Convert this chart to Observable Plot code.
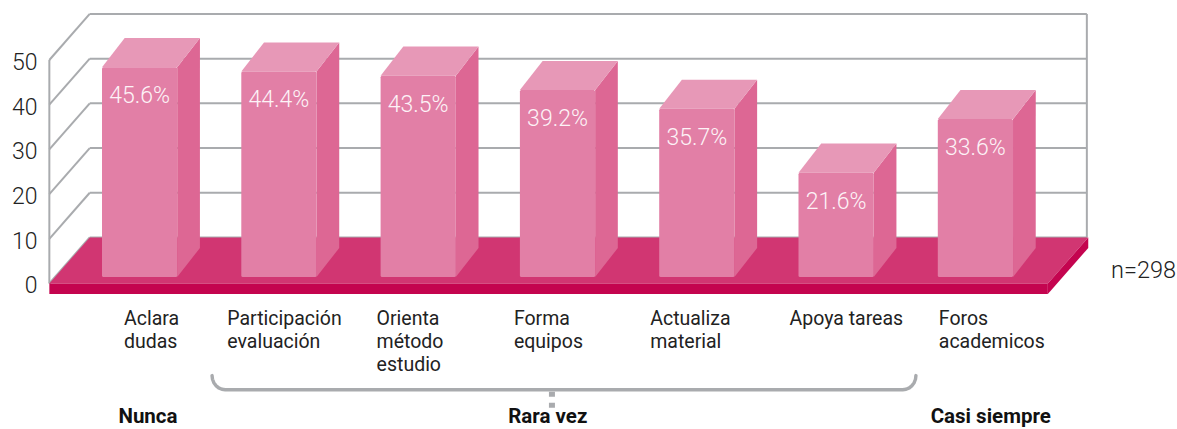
<!DOCTYPE html>
<html><head><meta charset="utf-8">
<script src="https://cdn.jsdelivr.net/npm/d3@7"></script>
<script src="https://cdn.jsdelivr.net/npm/@observablehq/plot@0.6"></script>
<style>html,body{margin:0;padding:0;background:#fff;overflow:hidden}svg{display:block}</style>
</head><body><div id="c"></div>
<script>
const categories = ["Aclara\ndudas","Participación\nevaluación","Orienta\nmétodo\nestudio","Forma\nequipos","Actualiza\nmaterial","Apoya tareas","Foros\nacademicos"];
const percentLabels = [45.6,44.4,43.5,39.2,35.7,21.6,33.6];
const barHeights = [45.3,44.3,43.4,40.2,36.0,21.7,33.7];
const groups = ["Nunca","Rara vez","Casi siempre"];
const yTicks = [0,10,20,30,40,50];
const sampleNote = "n=298";

// layout (data units of the x and y scales)
const FONT = "Roboto, sans-serif";
const GRID = "#a9abae", TEXT = "#222";
const barW = .54, barDx = .163, barDy = 6.5, barBase = 1.45, lift = 3.1;
const wallDx = .29, wallDy = 10.3;
const floorL = -.378, floorR = 6.79, slab = 2.35;
const labelDx = [22,-14,-4,-6,-9,-9,1];
const groupX = [.33, 3.2, 6.38];

const poly = (id, fill, pts) => pts.map(([x,y]) => ({id, fill, x, y}));
const bars = barHeights.map((v,i) => ({i, label: percentLabels[i].toFixed(1) + "%", top: v + lift, cat: categories[i]}));
const faces = bars.flatMap(b => [
  ...poly("s"+b.i, "#dd6794", [[b.i+barW,barBase],[b.i+barW+barDx,barBase+barDy],[b.i+barW+barDx,b.top+barDy],[b.i+barW,b.top]]),
  ...poly("t"+b.i, "#e798b7", [[b.i,b.top],[b.i+barW,b.top],[b.i+barW+barDx,b.top+barDy],[b.i+barDx,b.top+barDy]])
]);
const floor = [
  ...poly("top", "#d13672", [[floorL,0],[floorR,0],[floorR+wallDx,wallDy],[floorL+wallDx,wallDy]]),
  ...poly("side", "#c4044f", [[floorR,0],[floorR+wallDx,wallDy],[floorR+wallDx,wallDy-slab],[floorR,-slab]]),
  ...poly("front", "#c4044f", [[floorL,0],[floorR,0],[floorR,-slab],[floorL,-slab]])
];
const steps = d3.range(0,7).map(k => k/6*Math.PI/2);
const bracket = [
  ...steps.map(t => ({x: .79+.095*(1-Math.cos(t)), y: -20.6-3.17*Math.sin(t)})),
  ...steps.map(t => ({x: 5.748+.095*Math.sin(t), y: -23.77+3.17*(1-Math.cos(t))}))
];

const chart = Plot.plot({
  width: 1177, height: 429,
  marginLeft: 49, marginRight: 0, marginTop: 0, marginBottom: 0,
  style: {fontFamily: FONT, background: "#fff", overflow: "hidden"},
  x: {domain: [0,6], range: [101.5, 101.5+6*139.3], axis: null},
  y: {domain: [0,50], range: [283, 59.5], axis: null},
  marks: [
    Plot.link(yTicks, {x1: floorL, x2: floorL+wallDx, y1: d=>d, y2: d=>d+wallDy, stroke: GRID, strokeWidth: 2}),
    Plot.link(yTicks, {x1: floorL+wallDx, x2: floorR+wallDx-.01, y1: d=>d+wallDy, y2: d=>d+wallDy, stroke: GRID, strokeWidth: 2}),
    Plot.link([0], {x1: floorL, x2: floorL, y1: 0, y2: 50, stroke: GRID, strokeWidth: 2}),
    Plot.link([0], {x1: floorR+wallDx-.01, x2: floorR+wallDx-.01, y1: wallDy, y2: 50+wallDy, stroke: GRID, strokeWidth: 2}),
    Plot.line(floor, {x:"x", y:"y", z:"id", fill:"fill", stroke:"none", curve:"linear-closed"}),
    Plot.line(faces, {x:"x", y:"y", z:"id", fill:"fill", stroke:"none", curve:"linear-closed"}),
    Plot.rect(bars, {x1:"i", x2: d=>d.i+barW, y1: barBase, y2:"top", fill:"#e27fa6", rx: 1.5, dx: .5, dy: .5}),
    Plot.text(bars, {x: d=>d.i+barW/2, y:"top", text:"label", dy: 28.5, fill:"#fdf3f7", fontSize: 23, fontWeight: 300}),
    Plot.axisY({ticks: yTicks, tickSize: 0, tickPadding: 12, label: null, fontSize: 23, fontWeight: 300, fill: TEXT, color: TEXT, dy: 2.5}),
    ...bars.map((b,i) => Plot.text([b], {x:"i", y:-5.6, text:"cat", textAnchor:"start", lineAnchor:"top", dx: labelDx[i], fontSize: 19.5, lineHeight: 1.18, fill: TEXT})),
    Plot.line(bracket, {x:"x", y:"y", stroke: GRID, strokeWidth: 3.4, fill:"none", strokeLinecap:"round"}),
    Plot.link([0], {x1: 3.23, x2: 3.23, y1: -24.2, y2: -27.8, stroke: GRID, strokeWidth: 6, strokeDasharray:"5,6"}),
    Plot.text(groups, {x: (d,i)=>groupX[i], y:-29.8, text: d=>d, fontSize: 20.5, fontWeight:"bold", fill:"#111"}),
    Plot.text([sampleNote], {x: 7.71, y: 2.9, text: d=>d, textAnchor:"end", fontSize: 23.5, fontWeight: 300, fill: TEXT})
  ]
});
document.getElementById("c").append(chart);
</script>
</body></html>
